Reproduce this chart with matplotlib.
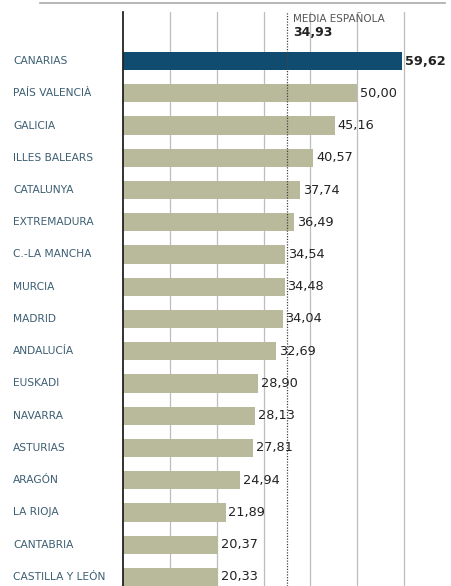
import numpy as np
import matplotlib.pyplot as plt
from matplotlib.lines import Line2D

# datos
regiones = ['CANARIAS', 'PAÍS VALENCIÀ', 'GALICIA', 'ILLES BALEARS', 'CATALUNYA',
            'EXTREMADURA', 'C.-LA MANCHA', 'MURCIA', 'MADRID', 'ANDALUCÍA',
            'EUSKADI', 'NAVARRA', 'ASTURIAS', 'ARAGÓN', 'LA RIOJA',
            'CANTABRIA', 'CASTILLA Y LEÓN']
valores = [59.62, 50.00, 45.16, 40.57, 37.74, 36.49, 34.54, 34.48, 34.04, 32.69,
           28.90, 28.13, 27.81, 24.94, 21.89, 20.37, 20.33]
media = 34.93

fig = plt.figure(figsize=(4.51, 5.86), dpi=100)
ax = fig.add_axes([123/451, 0, 328/451, 574/586])

y = np.arange(len(regiones))
colores = ['#0f4c6f' if r == 'CANARIAS' else '#b9b99b' for r in regiones]
ax.barh(y, valores, height=0.57, color=colores, zorder=2)

# rejilla vertical
for g in [10, 20, 30, 40, 50, 60]:
    ax.axvline(g, color='#bdbdbd', lw=0.9, zorder=1)
ax.axvline(media, color='#444444', lw=0.9, ls=(0, (1, 1.2)), zorder=3)

for i, v in enumerate(valores):
    ax.text(v + 0.6, i, f'{v:.2f}'.replace('.', ','), va='center', ha='left',
            fontsize=9.3, color='#222222', fontweight='bold' if i == 0 else 'normal')
    ax.text(-23.5, i, regiones[i], va='center', ha='left', fontsize=7.7,
            color='#3d5f73')

ax.text(media + 1.3, -1.3, 'MEDIA ESPAÑOLA', fontsize=7.5, color='#555555', va='center')
ax.text(media + 1.3, -0.88, '34,93', fontsize=9, color='#222222', fontweight='bold', va='center')

ax.set_xlim(0, 70)
ax.set_ylim(16.28, -1.52)
ax.set_xticks([])
ax.set_yticks([])
for s in ['top', 'right', 'bottom']:
    ax.spines[s].set_visible(False)
ax.spines['left'].set_color('#222222')
ax.spines['left'].set_linewidth(1.3)

# linea superior
fig.add_artist(Line2D([40/451, 445/451], [1 - 3/586, 1 - 3/586], color='#aaaaaa', lw=1.2))

fig.savefig('out.png', dpi=100)
